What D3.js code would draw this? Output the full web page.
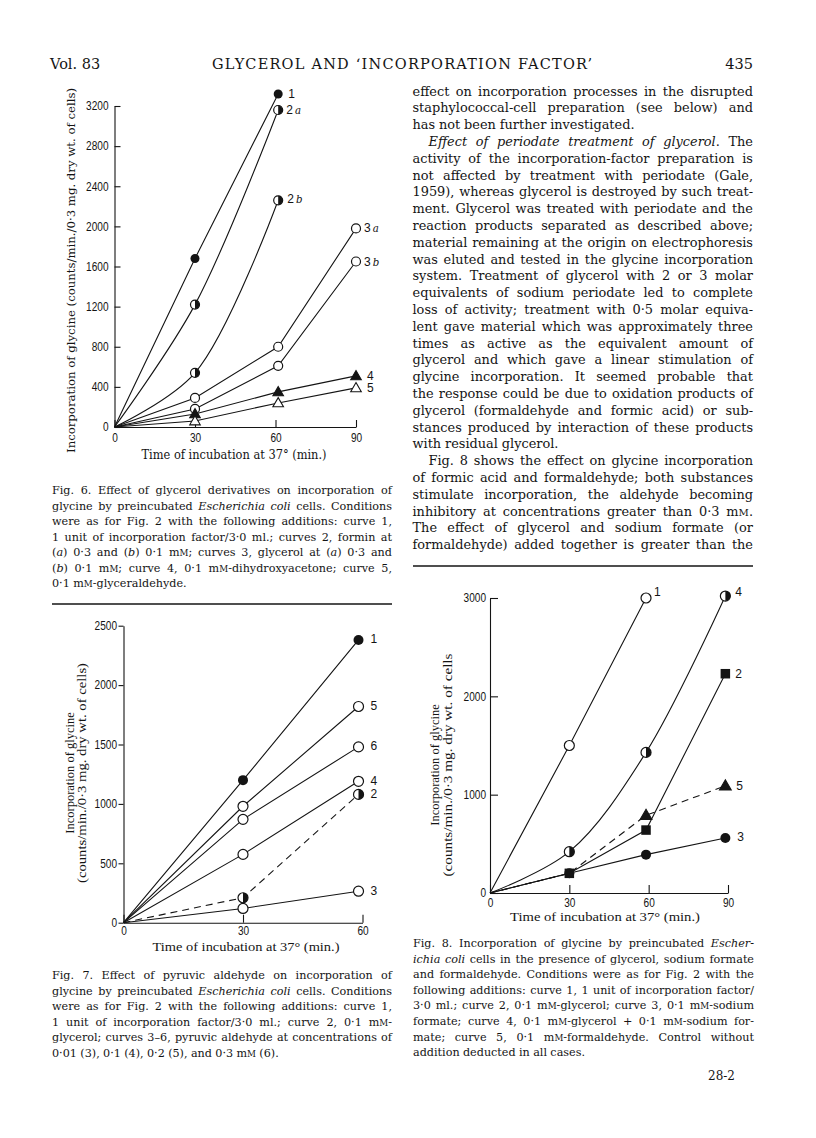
<!DOCTYPE html>
<html>
<head>
<meta charset="utf-8">
<script src="https://cdn.jsdelivr.net/npm/d3@7"></script>
<style>
body { margin: 0; background: #fff; }
svg { display: block; }
</style>
</head>
<body>
<svg id="page" width="816" height="1138"></svg>
<script>
// ---------- Fig. 6 data ----------
const fig6TimesA = [0, 30, 61];
const fig6TimesB = [0, 30, 61, 90];
const fig6Curve1  = [0, 1680, 3320];
const fig6Curve2a = [0, 1220, 3160];
const fig6Curve2b = [0, 540, 2260];
const fig6Curve3a = [0, 290, 800, 1980];
const fig6Curve3b = [0, 180, 610, 1650];
const fig6Curve4  = [0, 130, 350, 510];
const fig6Curve5  = [0, 60, 240, 390];
const fig6YTicks = [0, 400, 800, 1200, 1600, 2000, 2400, 2800, 3200];
const fig6XTicks = [0, 30, 60, 90];

// ---------- Fig. 7 data ----------
const fig7Times = [0, 30, 59];
const fig7Curve1 = [0, 1200, 2380];
const fig7Curve2 = [0, 210, 1080];
const fig7Curve3 = [0, 120, 265];
const fig7Curve4 = [0, 575, 1190];
const fig7Curve5 = [0, 980, 1820];
const fig7Curve6 = [0, 870, 1480];
const fig7YTicks = [0, 500, 1000, 1500, 2000, 2500];
const fig7XTicks = [0, 30, 60];

// ---------- Fig. 8 data ----------
const fig8TimesA = [0, 30, 59];
const fig8TimesB = [0, 30, 59, 89];
const fig8Curve1 = [0, 1500, 3000];
const fig8Curve2 = [0, 200, 640, 2230];
const fig8Curve3 = [0, 200, 390, 560];
const fig8Curve4 = [0, 420, 1430, 3020];
const fig8Curve5 = [0, 200, 790, 1090];
const fig8YTicks = [0, 1000, 2000, 3000];
const fig8XTicks = [0, 30, 60, 90];

// ---------- text ----------
// _x_ = italic, {M} = small capital, leading '>' = indent, trailing '|' = not justified
const bodyLines = [
  "effect on incorporation processes in the disrupted",
  "staphylococcal-cell preparation (see below) and",
  "has not been further investigated.|",
  ">_Effect of periodate treatment of glycerol_. The",
  "activity of the incorporation-factor preparation is",
  "not affected by treatment with periodate (Gale,",
  "1959), whereas glycerol is destroyed by such treat-",
  "ment. Glycerol was treated with periodate and the",
  "reaction products separated as described above;",
  "material remaining at the origin on electrophoresis",
  "was eluted and tested in the glycine incorporation",
  "system. Treatment of glycerol with 2 or 3 molar",
  "equivalents of sodium periodate led to complete",
  "loss of activity; treatment with 0·5 molar equiva-",
  "lent gave material which was approximately three",
  "times as active as the equivalent amount of",
  "glycerol and which gave a linear stimulation of",
  "glycine incorporation. It seemed probable that",
  "the response could be due to oxidation products of",
  "glycerol (formaldehyde and formic acid) or sub-",
  "stances produced by interaction of these products",
  "with residual glycerol.|",
  ">Fig. 8 shows the effect on glycine incorporation",
  "of formic acid and formaldehyde; both substances",
  "stimulate incorporation, the aldehyde becoming",
  "inhibitory at concentrations greater than 0·3 m{M}.",
  "The effect of glycerol and sodium formate (or",
  "formaldehyde) added together is greater than the"
];

const fig6Caption = [
  "Fig. 6. Effect of glycerol derivatives on incorporation of",
  "glycine by preincubated _Escherichia coli_ cells. Conditions",
  "were as for Fig. 2 with the following additions: curve 1,",
  "1 unit of incorporation factor/3·0 ml.; curves 2, formin at",
  "(_a_) 0·3 and (_b_) 0·1 m{M}; curves 3, glycerol at (_a_) 0·3 and",
  "(_b_) 0·1 m{M}; curve 4, 0·1 m{M}-dihydroxyacetone; curve 5,",
  "0·1 m{M}-glyceraldehyde.|"
];

const fig7Caption = [
  "Fig. 7. Effect of pyruvic aldehyde on incorporation of",
  "glycine by preincubated _Escherichia coli_ cells. Conditions",
  "were as for Fig. 2 with the following additions: curve 1,",
  "1 unit of incorporation factor/3·0 ml.; curve 2, 0·1 m{M}-",
  "glycerol; curves 3–6, pyruvic aldehyde at concentrations of",
  "0·01 (3), 0·1 (4), 0·2 (5), and 0·3 m{M} (6).|"
];

const fig8Caption = [
  "Fig. 8. Incorporation of glycine by preincubated _Escher-_",
  "_ichia coli_ cells in the presence of glycerol, sodium formate",
  "and formaldehyde. Conditions were as for Fig. 2 with the",
  "following additions: curve 1, 1 unit of incorporation factor/",
  "3·0 ml.; curve 2, 0·1 m{M}-glycerol; curve 3, 0·1 m{M}-sodium",
  "formate; curve 4, 0·1 m{M}-glycerol + 0·1 m{M}-sodium for-",
  "mate; curve 5, 0·1 m{M}-formaldehyde. Control without",
  "addition deducted in all cases.|"
];

const INK = '#141414';
const SERIF = "'DejaVu Serif', serif";
const TSERIF = "'Liberation Serif', serif";
const SANS = "'Liberation Sans', sans-serif";

const svg = d3.select('#page');

// ---------- justified text helpers ----------
function parseRich(str){
  const words = [];
  let cur = [], buf = '', it = false, sc = false;
  const flush = () => { if (buf) { cur.push({t: buf, it, sc}); buf = ''; } };
  for (const ch of str) {
    if (ch === '_') { flush(); it = !it; }
    else if (ch === '{') { flush(); sc = true; }
    else if (ch === '}') { flush(); sc = false; }
    else if (ch === ' ') { flush(); if (cur.length) { words.push(cur); cur = []; } }
    else buf += ch;
  }
  flush();
  if (cur.length) words.push(cur);
  return words;
}

function textBlock(lines, o){
  const g = svg.append('g').attr('fill', INK).attr('font-family', o.font);
  lines.forEach((raw, i) => {
    let str = raw, indent = 0, justify = true;
    if (str.startsWith('>')) { str = str.slice(1); indent = o.indent; }
    if (str.endsWith('|')) { str = str.slice(0, -1); justify = false; }
    const words = parseRich(str);
    const y = o.y + i * o.lead;
    const left = o.x + indent, width = o.width - indent;
    let size = o.size;
    const nodes = words.map(w => {
      const t = g.append('text').attr('y', y).attr('font-size', size);
      w.forEach(s => {
        const sp = t.append('tspan').text(s.t);
        if (s.it) sp.attr('font-style', 'italic');
        if (s.sc) sp.attr('font-size', '0.78em');
      });
      return t;
    });
    let widths = nodes.map(n => n.node().getComputedTextLength());
    let sum = d3.sum(widths);
    const gaps = nodes.length - 1;
    const minGap = size * 0.22;
    if (sum + gaps * minGap > width) {
      size = size * (width - gaps * minGap) / sum;
      nodes.forEach(n => n.attr('font-size', size));
      widths = nodes.map(n => n.node().getComputedTextLength());
      sum = d3.sum(widths);
    }
    const gap = (justify && gaps > 0) ? (width - sum) / gaps : size * 0.3;
    let cx = left;
    nodes.forEach((n, k) => { n.attr('x', cx); cx += widths[k] + gap; });
  });
}

// squeeze a label horizontally, like the condensed face of the print
function narrow(sel, f){
  sel.each(function(){
    const len = this.getComputedTextLength();
    d3.select(this).attr('textLength', len * f).attr('lengthAdjust', 'spacingAndGlyphs');
  });
}

// ---------- markers ----------
function drawMarker(g, type, cx, cy, r){
  const m = g.append('g').attr('transform', `translate(${cx},${cy})`);
  if (type === 'filled') {
    m.append('circle').attr('r', r).attr('fill', INK);
  } else if (type === 'open') {
    m.append('circle').attr('r', r).attr('fill', '#fff').attr('stroke', INK).attr('stroke-width', 1.2);
  } else if (type === 'half') {
    m.append('circle').attr('r', r).attr('fill', '#fff').attr('stroke', INK).attr('stroke-width', 1.2);
    m.append('path').attr('d', `M0,${-r}A${r},${r} 0 0,1 0,${r}Z`).attr('fill', INK);
  } else if (type === 'tri' || type === 'triOpen') {
    m.append('path').attr('d', d3.symbol(d3.symbolTriangle, r * r * 2.4)())
      .attr('transform', 'translate(0,0.8)')
      .attr('fill', type === 'tri' ? INK : '#fff')
      .attr('stroke', INK).attr('stroke-width', 1.1);
  } else if (type === 'square') {
    m.append('rect').attr('x', -r * 0.95).attr('y', -r * 0.95)
      .attr('width', r * 1.9).attr('height', r * 1.9).attr('fill', INK);
  }
}

const curves = {linear: d3.curveLinear, bend: d3.curveCatmullRom.alpha(0.5)};

// ---------- chart ----------
function drawFigure(c){
  const g = svg.append('g');
  const x = d3.scaleLinear().domain(c.xDomain).range(c.xRange);
  const y = d3.scaleLinear().domain(c.yDomain).range(c.yRange);

  const gy = g.append('g').attr('transform', `translate(${c.xRange[0]},0)`)
    .call(d3.axisLeft(y).tickValues(c.yTicks).tickFormat(d3.format('d'))
      .tickSize(c.yTickSize).tickSizeOuter(0).tickPadding(c.yPad));
  const gx = g.append('g').attr('transform', `translate(0,${c.yRange[0]})`)
    .call(d3.axisBottom(x).tickValues(c.xTicks).tickFormat(d3.format('d'))
      .tickSize(-c.xTickSize).tickSizeOuter(0).tickPadding(c.xPad));
  [gx, gy].forEach(a => {
    a.attr('font-family', SANS).attr('font-size', c.tickFont);
    a.selectAll('path, line').attr('stroke', INK).attr('stroke-width', 1.1);
    a.selectAll('text').attr('fill', INK).call(narrow, 0.84);
  });

  c.series.forEach(s => {
    const pts = s.times.map((t, i) => [t, s.values[i]]);
    const line = d3.line().x(d => x(d[0])).y(d => y(d[1])).curve(curves[s.curve || 'linear']);
    g.append('path').datum(pts).attr('d', line)
      .attr('fill', 'none').attr('stroke', INK).attr('stroke-width', 1.1)
      .attr('stroke-dasharray', s.dashed ? '7,5' : null);
  });
  c.series.forEach(s => {
    s.times.forEach((t, i) => {
      if (i === 0 || (s.skip && s.skip.includes(i))) return;
      drawMarker(g, s.mark, x(t), y(s.values[i]), c.r);
    });
    const n = s.times.length - 1;
    const lab = g.append('text')
      .attr('x', x(s.times[n]) + s.lab[0]).attr('y', y(s.values[n]) + s.lab[1])
      .attr('dy', '0.36em').attr('font-family', SANS).attr('font-size', c.labFont).attr('fill', INK);
    lab.append('tspan').text(s.name);
    if (s.sub) lab.append('tspan').attr('font-family', SERIF).attr('font-style', 'italic')
      .attr('font-size', '0.85em').text('\u2009' + s.sub);
  });

  // axis titles
  const tg = g.append('g').attr('fill', INK).attr('font-family', c.titleFont);
  c.yTitle.forEach(t => {
    const el = tg.append('text').attr('transform', `translate(${t.x},${t.cy}) rotate(-90)`)
      .attr('text-anchor', 'middle').attr('font-size', t.size).text(t.text);
    if (t.len) el.attr('textLength', t.len).attr('lengthAdjust', 'spacingAndGlyphs');
  });
  const xt = tg.append('text').attr('x', c.xTitle.cx).attr('y', c.xTitle.y)
    .attr('text-anchor', 'middle').attr('font-size', c.xTitle.size).text(c.xTitle.text);
  if (c.xTitle.len) xt.attr('textLength', c.xTitle.len).attr('lengthAdjust', 'spacingAndGlyphs');
}

// ---------- page header ----------
const head = svg.append('g').attr('fill', INK).attr('font-family', SERIF).attr('font-size', 14.5);
head.append('text').attr('x', 50).attr('y', 69).text('Vol. 83');
head.append('text').attr('x', 212).attr('y', 69).attr('textLength', 380).attr('lengthAdjust', 'spacing')
  .text('GLYCEROL AND \u2018INCORPORATION FACTOR\u2019');
head.append('text').attr('x', 753).attr('y', 69).attr('text-anchor', 'end').text('435');

// ---------- body text ----------
textBlock(bodyLines, {x: 412.5, y: 95.5, width: 340.5, lead: 16.8, size: 12.9, indent: 16, font: SERIF});

// ---------- figure 6 ----------
const timeTitle = 'Time of incubation at 37\u00b0 (min.)';
drawFigure({
  xDomain: [0, 90], xRange: [114.5, 356], yDomain: [0, 3200], yRange: [427, 106],
  yTicks: fig6YTicks, xTicks: fig6XTicks, yTickSize: -6, yPad: 6, xTickSize: 7, xPad: 6,
  tickFont: 12, labFont: 12, r: 4.5, titleFont: SERIF,
  series: [
    {name: '1', times: fig6TimesA, values: fig6Curve1, mark: 'filled', lab: [10, 0]},
    {name: '2', sub: 'a', times: fig6TimesA, values: fig6Curve2a, mark: 'half', curve: 'bend', lab: [8, 0]},
    {name: '2', sub: 'b', times: fig6TimesA, values: fig6Curve2b, mark: 'half', curve: 'bend', lab: [9, -2]},
    {name: '3', sub: 'a', times: fig6TimesB, values: fig6Curve3a, mark: 'open', lab: [8, -1]},
    {name: '3', sub: 'b', times: fig6TimesB, values: fig6Curve3b, mark: 'open', lab: [8, 0]},
    {name: '4', times: fig6TimesB, values: fig6Curve4, mark: 'tri', lab: [11, 0]},
    {name: '5', times: fig6TimesB, values: fig6Curve5, mark: 'triOpen', lab: [11, 0]}
  ],
  yTitle: [{text: 'Incorporation of glycine (counts/min./0\u00b73 mg. dry wt. of cells)', x: 75, cy: 270.5, size: 11.5, len: 365}],
  xTitle: {text: timeTitle, cx: 234, y: 459, size: 12, len: 185}
});
textBlock(fig6Caption, {x: 52, y: 494, width: 340, lead: 15.5, size: 11.2, indent: 0, font: SERIF});
svg.append('line').attr('x1', 52).attr('x2', 392).attr('y1', 604).attr('y2', 604)
  .attr('stroke', INK).attr('stroke-width', 1.3);

// ---------- figure 7 ----------
drawFigure({
  xDomain: [0, 60], xRange: [123.5, 362.5], yDomain: [0, 2500], yRange: [922.7, 625.7],
  yTicks: fig7YTicks, xTicks: fig7XTicks, yTickSize: 5, yPad: 1.5, xTickSize: 8, xPad: 4,
  tickFont: 12, labFont: 12, r: 5, titleFont: TSERIF,
  series: [
    {name: '1', times: fig7Times, values: fig7Curve1, mark: 'filled', lab: [12, -1]},
    {name: '5', times: fig7Times, values: fig7Curve5, mark: 'open', lab: [12, -1]},
    {name: '6', times: fig7Times, values: fig7Curve6, mark: 'open', lab: [12, -1]},
    {name: '4', times: fig7Times, values: fig7Curve4, mark: 'open', lab: [12, -1]},
    {name: '2', times: fig7Times, values: fig7Curve2, mark: 'half', dashed: true, lab: [12, -1]},
    {name: '3', times: fig7Times, values: fig7Curve3, mark: 'open', lab: [12, -1]}
  ],
  yTitle: [
    {text: 'Incorporation of glycine', x: 74, cy: 773, size: 12.5},
    {text: '(counts/min./0\u00b73 mg. dry wt. of cells)', x: 86, cy: 773, size: 12.5, len: 220}
  ],
  xTitle: {text: timeTitle, cx: 246, y: 951, size: 12.5, len: 187}
});
textBlock(fig7Caption, {x: 52, y: 979, width: 340, lead: 15.5, size: 11.2, indent: 0, font: SERIF});

// ---------- figure 8 ----------
svg.append('line').attr('x1', 413).attr('x2', 753).attr('y1', 566).attr('y2', 566)
  .attr('stroke', INK).attr('stroke-width', 1.3);
drawFigure({
  xDomain: [0, 90], xRange: [490, 728], yDomain: [0, 3000], yRange: [893, 598],
  yTicks: fig8YTicks, xTicks: fig8XTicks, yTickSize: -8, yPad: 4, xTickSize: 8, xPad: 5,
  tickFont: 12, labFont: 12, r: 5, titleFont: TSERIF,
  series: [
    {name: '1', times: fig8TimesA, values: fig8Curve1, mark: 'open', lab: [8, -6]},
    {name: '4', times: fig8TimesB, values: fig8Curve4, mark: 'half', curve: 'bend', lab: [10, -4]},
    {name: '5', times: fig8TimesB, values: fig8Curve5, mark: 'tri', dashed: true, skip: [1], lab: [11, 0]},
    {name: '3', times: fig8TimesB, values: fig8Curve3, mark: 'filled', lab: [12, -1]},
    {name: '2', times: fig8TimesB, values: fig8Curve2, mark: 'square', lab: [10, 0]}
  ],
  yTitle: [
    {text: 'Incorporation of glycine', x: 439, cy: 765, size: 12.5},
    {text: '(counts/min./0\u00b73 mg. dry wt. of cells', x: 452, cy: 765, size: 12.5, len: 223}
  ],
  xTitle: {text: timeTitle, cx: 605, y: 921, size: 12.5, len: 190}
});
textBlock(fig8Caption, {x: 413, y: 947, width: 341, lead: 15.6, size: 11.2, indent: 0, font: SERIF});
svg.append('text').attr('x', 708).attr('y', 1080).attr('fill', INK)
  .attr('font-family', SERIF).attr('font-size', 12).text('28-2');
</script>
</body>
</html>
